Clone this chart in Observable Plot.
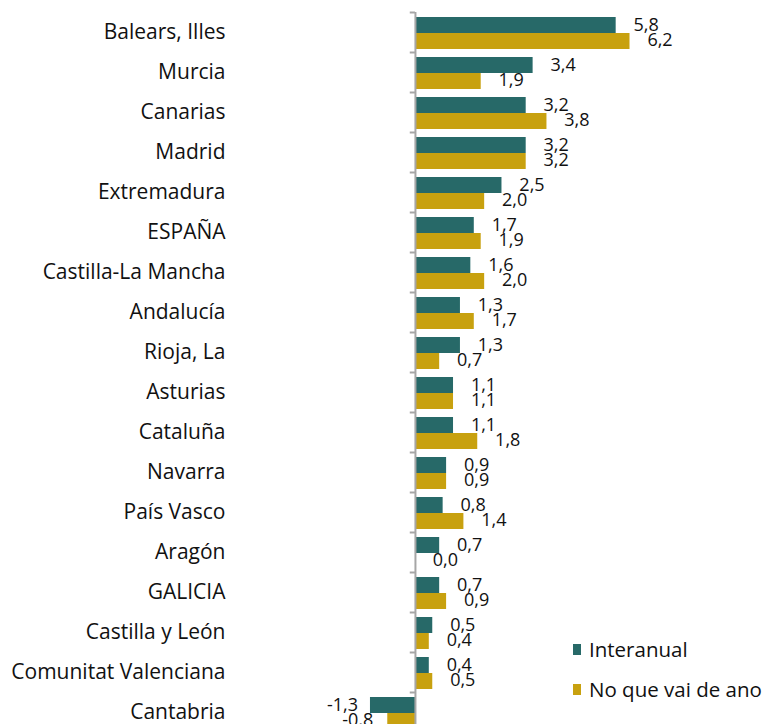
<!DOCTYPE html>
<html>
<head>
<meta charset="utf-8">
<script src="https://cdn.jsdelivr.net/npm/d3@7"></script>
<script src="https://cdn.jsdelivr.net/npm/@observablehq/plot@0.6"></script>
<style>
  html, body { margin: 0; padding: 0; background: #fff; overflow: hidden; }
  #wrap { position: relative; width: 764px; height: 724px; overflow: hidden; }
  .legend { position: absolute; left: 573px; font-family: "Open Sans", sans-serif; font-size: 20.5px; color: #111; }
  .legend .item { position: absolute; left: 0; white-space: nowrap; display: flex; align-items: center; line-height: 24px; }
  .legend .sw { display: inline-block; width: 8px; height: 11px; margin-right: 8px; }
</style>
</head>
<body>
<div id="wrap"></div>
<script>
const categories = ["Balears, Illes","Murcia","Canarias","Madrid","Extremadura","ESPAÑA","Castilla-La Mancha","Andalucía","Rioja, La","Asturias","Cataluña","Navarra","País Vasco","Aragón","GALICIA","Castilla y León","Comunitat Valenciana","Cantabria"];
const interanual = [5.8,3.4,3.2,3.2,2.5,1.7,1.6,1.3,1.3,1.1,1.1,0.9,0.8,0.7,0.7,0.5,0.4,-1.3];
const noQueVaiDeAno = [6.2,1.9,3.8,3.2,2.0,1.9,2.0,1.7,0.7,1.1,1.8,0.9,1.4,0.0,0.9,0.4,0.5,-0.8];
const seriesNames = ["Interanual","No que vai de ano"];
const seriesColors = ["#276968","#c8a10f"];

const rows = categories.map((c, i) => ({cat: c, a: interanual[i], b: noQueVaiDeAno[i]}));
const fmt = v => v.toFixed(1).replace(".", ",");
const font = '"Open Sans", sans-serif';

const chart = Plot.plot({
  width: 764,
  height: 732,
  marginTop: 12,
  marginBottom: 0,
  marginLeft: 235,
  marginRight: 89.5,
  style: {fontFamily: font, background: "#fff"},
  x: {domain: [-5.2, 7.5], axis: null},
  y: {domain: categories, padding: 0, label: null},
  marks: [
    Plot.axisY({tickSize: 0, tickPadding: 10, fontSize: 21, fill: "#111", label: null}),
    Plot.barX(rows, {x: "a", y: "cat", fill: seriesColors[0], insetTop: 5, insetBottom: 19}),
    Plot.barX(rows, {x: "b", y: "cat", fill: seriesColors[1], insetTop: 21, insetBottom: 3}),
    Plot.ruleX([0], {stroke: "#a6a6a6", strokeWidth: 2}),
    Plot.ruleY(categories, {y: d => d, x1: -0.15, x2: 0, dy: -20, stroke: "#a6a6a6", strokeWidth: 2}),
    Plot.text(rows.filter(d => d.a >= 0), {x: "a", y: "cat", text: d => fmt(d.a), dx: 30, dy: -7, fontSize: 18, fill: "#111"}),
    Plot.text(rows.filter(d => d.a < 0), {x: "a", y: "cat", text: d => fmt(d.a), dx: -28, dy: -7, fontSize: 18, fill: "#111"}),
    Plot.text(rows.filter(d => d.b >= 0), {x: "b", y: "cat", text: d => fmt(d.b), dx: 30, dy: 8, fontSize: 18, fill: "#111"}),
    Plot.text(rows.filter(d => d.b < 0), {x: "b", y: "cat", text: d => fmt(d.b), dx: -30, dy: 8, fontSize: 18, fill: "#111"})
  ]
});

const wrap = document.getElementById("wrap");
wrap.appendChild(chart);
const legend = document.createElement("div");
legend.className = "legend";
legend.style.top = "0px";
seriesNames.forEach((name, i) => {
  const item = document.createElement("div");
  item.className = "item";
  item.style.top = (637 + i * 40) + "px";
  const sw = document.createElement("span");
  sw.className = "sw";
  sw.style.background = seriesColors[i];
  item.appendChild(sw);
  item.appendChild(document.createTextNode(name));
  legend.appendChild(item);
});
wrap.appendChild(legend);
</script>
</body>
</html>
